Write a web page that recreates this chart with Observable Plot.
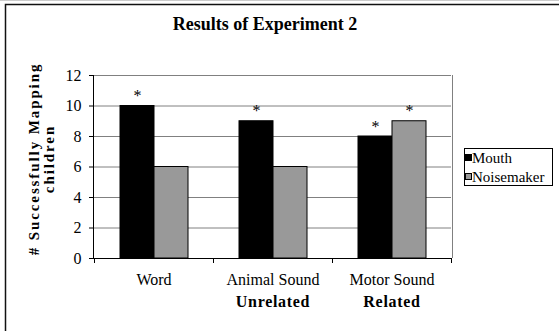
<!DOCTYPE html>
<html>
<head>
<meta charset="utf-8">
<script src="https://cdn.jsdelivr.net/npm/d3@7"></script>
<script src="https://cdn.jsdelivr.net/npm/@observablehq/plot@0.6"></script>
<style>
  html, body { margin: 0; padding: 0; background: white; }
  svg { display: block; }
</style>
</head>
<body>
<div id="chart"></div>
<script>
const title = "Results of Experiment 2";
const yLabel = "# Successfully Mapping\nchildren";
const categories = ["Word", "Animal Sound", "Motor Sound"];
const groupLabels = ["", "Unrelated", "Related"];
const series = ["Mouth", "Noisemaker"];
const mouth = [10, 9, 8];
const noisemaker = [6, 6, 9];
const mouthStar = [true, true, true];
const noisemakerStar = [false, false, true];
const yTicks = [0, 2, 4, 6, 8, 10, 12];
const colors = ["#000000", "#999999"];

(function () {
const FONT = "Liberation Serif, Times New Roman, serif";
const data = [];
categories.forEach((c, i) => {
  data.push({category: c, series: "Mouth", value: mouth[i], star: mouthStar[i]});
  data.push({category: c, series: "Noisemaker", value: noisemaker[i], star: noisemakerStar[i]});
});
const groups = categories.map((c, i) => ({category: c, group: groupLabels[i]}));

const W = 559, H = 331;
const mL = 93, mR = 107, mT = 75, mB = 73;

const chart = Plot.plot({
  width: W, height: H,
  marginLeft: mL, marginRight: mR, marginTop: mT, marginBottom: mB,
  style: {fontFamily: FONT, fontSize: "16px", background: "white", color: "black"},
  fx: {domain: categories, padding: 0, label: null, axis: "bottom", tickSize: 0, tickPadding: 15},
  x: {domain: series, paddingInner: 0, paddingOuter: 0.714, axis: null},
  y: {domain: [0, 12], ticks: yTicks, label: null, tickSize: 5, tickPadding: 8},
  color: {domain: series, range: colors},
  marks: [
    Plot.gridY(yTicks, {stroke: "#808080", strokeOpacity: 1}),
    Plot.barY(data, {fx: "category", x: "series", y: "value", fill: "series", stroke: "black", strokeWidth: 1}),
    Plot.ruleY([0], {stroke: "black"}),
    Plot.text(data.filter(d => d.star), {fx: "category", x: "series", y: "value", text: () => "*", lineAnchor: "bottom", dy: -5, fontSize: 16}),
    Plot.text(groups, {fx: "category", text: "group", frameAnchor: "bottom", dy: 48, fontWeight: "bold", fontSize: 16}),
    Plot.text([{category: "Word", t: yLabel}], {fx: "category", text: "t", frameAnchor: "left", textAnchor: "middle", rotate: -90, dx: -53, dy: -8, fontWeight: "bold", fontSize: 15, lineHeight: 1.0})
  ]
});

document.getElementById("chart").appendChild(chart);

const svg = d3.select(chart);
svg.selectAll("text").filter(function () { return this.textContent.startsWith("# Succ"); }).style("letter-spacing", "1.9px");
svg.selectAll("text").filter(function () { return groupLabels.includes(this.textContent) && this.textContent !== ""; }).style("letter-spacing", "0.7px");

const pTop = mT, pBottom = H - mB, pLeft = mL, pRight = W - mR;
svg.append("line").attr("x1", pRight + 0.5).attr("x2", pRight + 0.5).attr("y1", pTop).attr("y2", pBottom).attr("stroke", "#808080");
svg.append("line").attr("x1", pLeft + 0.5).attr("x2", pLeft + 0.5).attr("y1", pTop).attr("y2", pBottom).attr("stroke", "black");

const fx = chart.scale("fx");
const bw = fx.bandwidth;
const edges = categories.map(c => fx.apply(c));
edges.push(fx.apply(categories[categories.length - 1]) + bw);
edges.forEach(e => {
  svg.append("line").attr("x1", e + 0.5).attr("x2", e + 0.5).attr("y1", pBottom).attr("y2", pBottom + 5).attr("stroke", "black");
});

svg.append("text").attr("x", 265).attr("y", 30).attr("text-anchor", "middle")
  .attr("font-family", FONT).attr("font-weight", "bold").attr("font-size", 18).text(title);

svg.append("line").attr("x1", 0).attr("x2", W).attr("y1", 0.5).attr("y2", 0.5).attr("stroke", "#cccccc");
svg.append("path").attr("d", `M5.5,${H} V4.5 H${W}`).attr("fill", "none").attr("stroke", "#111").attr("stroke-width", 1.5);

const lg = svg.append("g").attr("font-family", FONT).attr("font-size", 15).attr("text-anchor", "start");
lg.append("rect").attr("x", 464.5).attr("y", 148.5).attr("width", 88).attr("height", 37).attr("fill", "white").attr("stroke", "black");
series.forEach((s, i) => {
  const cy = 157.5 + i * 19;
  lg.append("rect").attr("x", 465.5).attr("y", cy - 3).attr("width", 6).attr("height", 6).attr("fill", colors[i]).attr("stroke", "black");
  lg.append("text").attr("x", 472).attr("y", cy).attr("dy", "0.35em").text(s);
});
})();
</script>
</body>
</html>
